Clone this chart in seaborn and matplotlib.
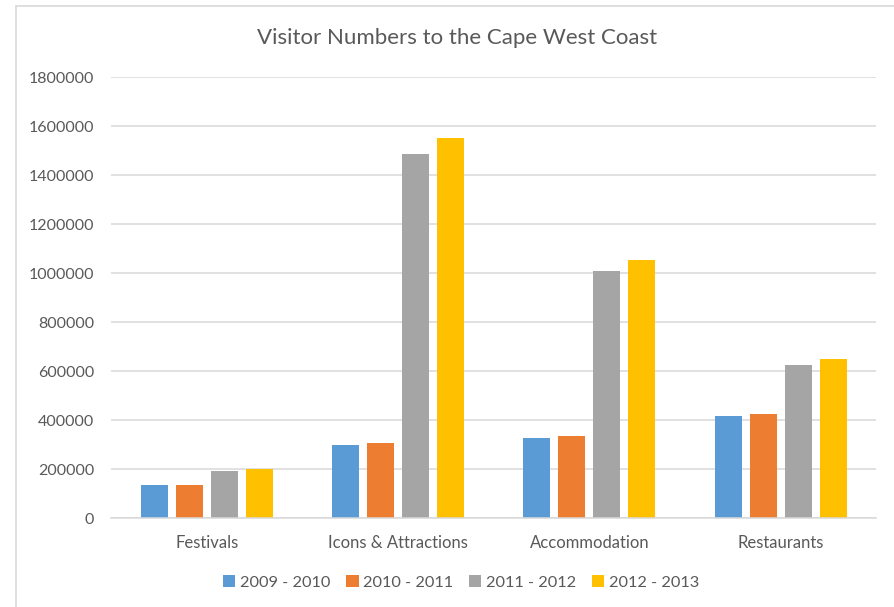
import matplotlib
matplotlib.use("Agg")
import matplotlib.pyplot as plt
from matplotlib.lines import Line2D
import seaborn as sns
import pandas as pd

categories = ["Festivals", "Icons & Attractions", "Accommodation", "Restaurants"]
seasons = ["2009 - 2010", "2010 - 2011", "2011 - 2012", "2012 - 2013"]
visitors_2009 = [133000, 297000, 326000, 417000]
visitors_2010 = [135000, 307000, 334000, 426000]
visitors_2011 = [192000, 1485000, 1007000, 623000]
visitors_2012 = [199000, 1550000, 1053000, 651000]
yticks = [0, 200000, 400000, 600000, 800000, 1000000, 1200000, 1400000, 1600000, 1800000]

colors = ["#5B9BD5", "#ED7D31", "#A5A5A5", "#FFC000"]
text_col = "#595959"
grid_col = "#D9D9D9"

rows = []
for season, vals in zip(seasons, [visitors_2009, visitors_2010, visitors_2011, visitors_2012]):
    for cat, v in zip(categories, vals):
        rows.append({"category": cat, "season": season, "visitors": v})
df = pd.DataFrame(rows)

sns.set_style("white")
plt.rcParams["font.family"] = ["Lato", "DejaVu Sans"]

fig = plt.figure(figsize=(8.94, 6.07), dpi=100)
ax = fig.add_axes([0.1242, 0.1466, 0.856, 0.7265])

sns.barplot(data=df, x="category", y="visitors", hue="season", order=categories,
            hue_order=seasons, palette=colors, width=0.733, gap=0.23,
            linewidth=0, saturation=1, ax=ax)

ax.set_ylim(0, 1800000)
ax.set_yticks(yticks)
ax.set_yticklabels([str(t) for t in yticks])
ax.set_xlim(-0.5, 3.5)
ax.yaxis.grid(True, color=grid_col, linewidth=1.1)
ax.set_axisbelow(True)
for s in ["top", "right", "left"]:
    ax.spines[s].set_visible(False)
ax.spines["bottom"].set_color(grid_col)
ax.spines["bottom"].set_linewidth(1.1)
ax.tick_params(axis="y", length=0, pad=12, labelsize=11.5, labelcolor=text_col)
ax.tick_params(axis="x", length=0, pad=12.5, labelsize=12, labelcolor=text_col)
ax.set_xlabel("")
ax.set_ylabel("")

handles, labels = ax.get_legend_handles_labels()
ax.get_legend().remove()
fig.legend(handles, labels, loc="center", bbox_to_anchor=(0.516, 0.040), ncol=4,
           frameon=False, fontsize=11.8, labelcolor=text_col, handlelength=0.75,
           handleheight=0.75, handletextpad=0.3, columnspacing=0.95)

fig.text(0.511, 0.937, "Visitor Numbers to the Cape West Coast", ha="center",
         va="center", fontsize=16, color=text_col)

# chart border (left and top edges visible in the screenshot)
fig.add_artist(Line2D([0.018, 0.018], [0, 0.99], color=grid_col, linewidth=1.2))
fig.add_artist(Line2D([0.018, 1], [0.99, 0.99], color=grid_col, linewidth=1.2))

fig.savefig("out.png", dpi=100)
